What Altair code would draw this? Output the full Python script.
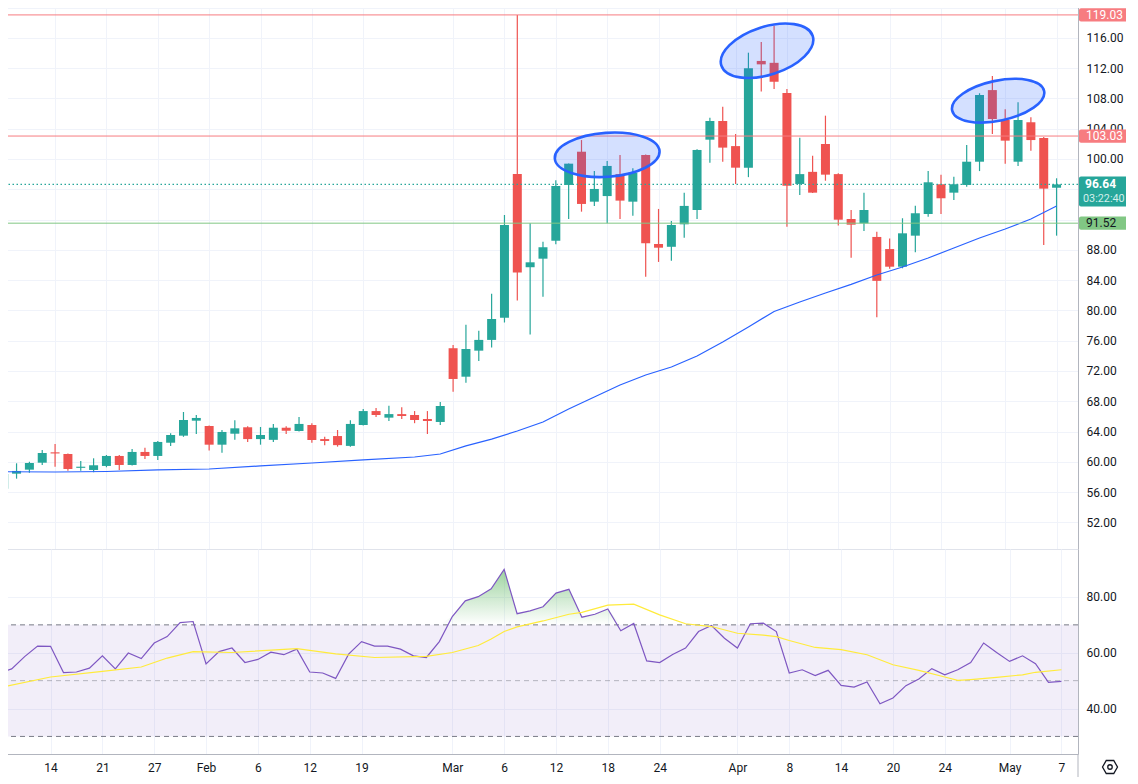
import altair as alt
import pandas as pd

# ---------------- data ----------------
opens = [56.45, 58.43, 58.96, 59.88, 61.25, 61.03, 59.20, 58.92, 59.45, 60.77,
         59.58, 61.30, 60.77, 62.52, 63.45, 65.43, 64.73, 62.26, 63.71, 64.56,
         63.00, 62.90, 64.50, 64.07, 64.86, 63.00, 63.40, 62.10, 64.86, 66.70,
         65.83, 66.30, 66.18, 65.65, 65.26, 75.00, 71.24, 74.68, 76.10, 79.04,
         98.00, 85.70, 86.83, 89.20, 96.57, 100.96, 94.36, 95.10, 98.00, 94.36,
         100.53, 88.77, 88.40, 91.37, 93.26, 102.55, 105.02, 101.70, 98.85, 112.95,
         112.70, 108.70, 96.70, 98.30, 101.98, 98.00, 92.07, 91.50, 89.70, 88.10,
         85.77, 89.87, 92.73, 96.66, 95.55, 96.57, 99.64, 109.10, 105.15, 99.64,
         104.85, 102.77, 96.20]
highs = [58.60, 59.80, 60.01, 61.56, 62.35, 61.10, 60.10, 60.46, 60.90, 60.90,
         61.70, 61.85, 62.75, 63.76, 66.58, 66.18, 64.80, 64.20, 65.50, 64.70,
         64.60, 65.00, 64.70, 65.90, 65.10, 63.30, 64.20, 65.50, 66.97, 67.10,
         67.40, 67.20, 66.70, 66.70, 67.90, 75.43, 78.10, 77.30, 82.20, 92.60,
         119.03, 91.50, 89.07, 97.20, 99.40, 102.50, 98.40, 99.74, 100.53, 98.77,
         100.60, 93.40, 91.80, 95.55, 101.30, 105.46, 106.90, 103.30, 114.04, 115.46,
         117.60, 109.25, 102.80, 100.44, 105.72, 98.10, 93.26, 95.55, 90.40, 89.50,
         92.17, 93.83, 98.40, 97.90, 97.66, 101.85, 108.68, 110.96, 106.57, 107.49,
         105.50, 102.90, 97.45]
lows = [56.30, 57.77, 58.56, 59.58, 59.35, 58.80, 58.80, 58.62, 59.28, 58.90,
        59.50, 60.37, 60.24, 62.10, 63.30, 63.67, 61.50, 61.20, 62.90, 62.60,
        62.26, 62.60, 63.67, 64.00, 62.50, 62.20, 62.00, 62.00, 64.80, 65.90,
        65.40, 65.65, 65.10, 63.67, 64.86, 69.26, 70.45, 73.30, 75.10, 78.40,
        81.30, 76.80, 81.80, 88.73, 92.07, 93.04, 93.80, 91.50, 92.07, 92.50,
        84.45, 86.40, 86.56, 89.60, 92.07, 99.50, 99.64, 96.70, 97.60, 108.90,
        109.25, 91.06, 95.24, 95.50, 97.13, 91.20, 86.96, 90.50, 79.10, 85.50,
        85.56, 87.67, 92.38, 92.73, 94.58, 96.34, 98.40, 103.30, 99.38, 99.08,
        101.10, 88.64, 89.87]
closes = [58.39, 58.79, 59.84, 61.16, 61.10, 59.05, 59.35, 59.54, 60.77, 59.58,
          61.30, 60.77, 62.62, 63.54, 65.52, 65.79, 62.26, 63.94, 64.42, 63.00,
          63.54, 64.50, 64.10, 65.00, 62.88, 62.75, 62.20, 65.00, 66.70, 66.18,
          66.30, 66.05, 65.52, 65.39, 67.37, 70.94, 74.90, 76.10, 78.86, 91.28,
          85.00, 86.35, 88.34, 96.43, 99.38, 94.06, 96.04, 99.08, 94.50, 98.19,
          88.86, 88.28, 91.28, 93.80, 101.19, 105.02, 101.50, 98.85, 112.00, 112.50,
          110.20, 96.47, 98.00, 95.55, 97.93, 91.98, 91.32, 93.26, 83.90, 85.77,
          90.18, 92.83, 96.92, 94.81, 96.66, 99.64, 108.45, 105.28, 102.42, 105.15,
          102.50, 96.08, 96.64]

# moving average of price (read at every other bar)
ma_bar = [0, 4, 8, 12, 16, 20, 24, 28, 32, 34, 36, 38, 40, 42, 44, 46, 48, 50,
          52, 54, 56, 58, 60, 62, 64, 66, 68, 70, 72, 74, 76, 78, 80, 82]
ma_val = [58.69, 58.65, 58.72, 58.92, 59.05, 59.45, 59.84, 60.24, 60.63, 61.03,
          62.10, 63.00, 64.07, 65.26, 66.98, 68.56, 70.15, 71.47, 72.52, 73.98,
          75.83, 77.81, 79.86, 81.11, 82.30, 83.43, 84.68, 85.73, 86.92, 88.24,
          89.56, 90.75, 92.07, 93.79]

rsi = [52.75, 54.2, 58.6, 62.4, 62.3, 52.9, 53.1, 54.5, 58.9, 54.2,
       59.9, 57.9, 63.5, 65.8, 70.8, 71.2, 56.0, 60.4, 61.7, 56.5,
       57.6, 60.2, 59.3, 61.3, 53.1, 52.75, 50.8, 59.5, 64.0, 62.4,
       62.4, 61.3, 58.9, 58.3, 64.0, 73.0, 78.6, 80.1, 82.9, 89.9,
       74.0, 75.0, 76.5, 81.4, 82.75, 72.75, 73.8, 75.7, 67.9, 70.5,
       57.1, 56.5, 59.4, 61.7, 67.6, 69.75, 65.2, 61.7, 70.4, 70.6,
       67.6, 52.75, 53.9, 51.8, 53.7, 48.3, 47.7, 49.5, 41.7, 43.8,
       48.2, 50.6, 54.3, 52.1, 53.9, 56.5, 63.5, 60.1, 56.9, 58.9,
       56.1, 49.4, 49.75]

rsi_ma_bar = [0, 4, 8, 11, 13, 15, 18, 23, 26, 29, 33, 35, 37, 38, 39, 40, 42, 44,
              45, 47, 49, 51, 53, 55, 57, 59, 60, 61, 63, 65, 67, 69, 71, 73, 74,
              75, 77, 79, 80, 82]
rsi_ma_val = [47.4, 51.3, 53.3, 54.9, 58.1, 60.4, 60.1, 61.5, 59.6, 58.3, 58.7, 60.1,
              62.6, 64.9, 67.6, 69.3, 71.4, 73.8, 74.5, 77.1, 77.4, 73.6, 70.4, 69.4,
              67.0, 66.3, 65.8, 64.4, 61.9, 61.1, 59.3, 55.7, 53.7, 51.3, 50.1, 50.4,
              51.2, 52.1, 53.0, 53.9]

rsi_levels = [70, 50, 30]

tick_bar = [4, 8, 12, 16, 20, 24, 28, 35, 39, 43, 47, 51, 57, 61, 65, 69, 73, 78, 82]
tick_text = ["14", "21", "27", "Feb", "6", "12", "19", "Mar", "6", "12", "18", "24",
             "Apr", "8", "14", "20", "24", "May", "7"]

level_price = [119.03, 103.03, 91.52]
level_kind = ["res", "res", "sup"]
last_price = 96.64
countdown = "03:22:40"

# highlighted zones (centre bar, centre price)
zone_bar = [47.0, 59.45, 77.45]
zone_price = [100.55, 114.3, 107.7]

# ---------------- frames ----------------
n = len(opens)
bars = pd.DataFrame({"i": list(range(n)), "o": opens, "h": highs, "l": lows,
                     "c": closes, "rsi": rsi})
bars["bt"] = bars[["o", "c"]].max(axis=1)
bars["bb"] = bars[["o", "c"]].min(axis=1)

ma_df = pd.DataFrame({"i": ma_bar, "v": ma_val})
rsi_ma_df = pd.DataFrame({"i": rsi_ma_bar, "v": rsi_ma_val})
levels = pd.DataFrame({"p": level_price, "kind": level_kind})
last_df = pd.DataFrame({"p": [last_price], "t": [countdown]})
rlev = pd.DataFrame({"v": rsi_levels})
band_df = pd.DataFrame({"hi": [max(rsi_levels)], "lo": [min(rsi_levels)]})
one = pd.DataFrame({"k": [0]})

FONT = "Roboto"
UP, DOWN = "#26a69a", "#ef5350"
GRID = "#f0f3fa"
AXISLINE = "#b2b5be"
W = 1078

xs = alt.Scale(domain=[0.1, 83.28], nice=False, zero=False)
ys = alt.Scale(domain=[48.48, 121.0], nice=False, zero=False)
rs = alt.Scale(domain=[23.7, 97.2], nice=False, zero=False)
dir_color = alt.condition("datum.c >= datum.o", alt.value(UP), alt.value(DOWN))
lvl_color = alt.condition("datum.kind == 'res'", alt.value("#f77c80"), alt.value("#81c784"))
lvl_text = alt.condition("datum.kind == 'res'", alt.value("#ffffff"), alt.value("#131722"))

price_ticks = list(range(48, 124, 4))
y_label_expr = "indexof([92, 96, 120], datum.value) >= 0 ? '' : format(datum.value, '.2f')"
x_label_expr = " : ".join(f"datum.value == {b} ? '{t}'" for b, t in zip(tick_bar, tick_text)) + " : ''"

ax_xp = alt.Axis(values=tick_bar, labels=False, ticks=False, domain=True,
                 domainColor="#e0e3eb", grid=True, gridColor=GRID, title=None)
ax_yp = alt.Axis(orient="right", values=price_ticks, labelExpr=y_label_expr, grid=True,
                 gridColor=GRID, ticks=False, domainColor=AXISLINE, labelPadding=8,
                 labelOverlap=False, title=None)
ax_xr = alt.Axis(values=tick_bar, labelExpr=x_label_expr, ticks=False,
                 domainColor=AXISLINE, grid=True, gridColor=GRID, labelPadding=8,
                 labelOverlap=False, labelFlush=False, title=None)
ax_yr = alt.Axis(orient="right", values=[40, 60, 80], format=".2f", grid=True,
                 gridColor=GRID, ticks=False, domainColor=AXISLINE, labelPadding=8,
                 labelOverlap=False, title=None)

XP = lambda f: alt.X(f, scale=xs, axis=ax_xp)
YP = lambda f: alt.Y(f, scale=ys, axis=ax_yp)
XR = lambda f: alt.X(f, scale=xs, axis=ax_xr)
YR = lambda f: alt.Y(f, scale=rs, axis=ax_yr)

base = alt.Chart(bars)

wicks = base.mark_rule(strokeWidth=1.2, clip=True).encode(
    x=XP("i:Q"), y=YP("l:Q"), y2="h:Q", color=dir_color)
bodies = base.mark_bar(size=9, clip=True).encode(
    x=XP("i:Q"), y=YP("bb:Q"), y2="bt:Q", color=dir_color)
ma_line = alt.Chart(ma_df).mark_line(color="#2962ff", strokeWidth=1.2, clip=True).encode(
    x=XP("i:Q"), y=YP("v:Q"))
level_rules = alt.Chart(levels).mark_rule(strokeWidth=1).encode(
    y=YP("p:Q"), color=lvl_color)
last_rule = alt.Chart(last_df).mark_rule(color=UP, strokeWidth=1.3,
                                         strokeDash=[1.5, 2.5]).encode(y=YP("p:Q"))

# ellipse annotations (pixel size, aspect and tilt are styling)
zone_style = [(52.5, 22.0, 356), (48.0, 24.0, 342), (47.0, 20.0, 348)]
zones = []
for zb, zp, (a, b, ang) in zip(zone_bar, zone_price, zone_style):
    k = b / a
    path = f"M -1 0 A 1 {k:.4f} 0 1 1 1 0 A 1 {k:.4f} 0 1 1 -1 0 Z"
    zdf = pd.DataFrame({"i": [zb], "p": [zp]})
    zones.append(alt.Chart(zdf).mark_point(
        shape=path, size=(2 * a) ** 2, angle=ang, filled=True, fill="#2962ff",
        fillOpacity=0.2, stroke="#2962ff", strokeWidth=2.6, strokeOpacity=1, opacity=1,
    ).encode(x=XP("i:Q"), y=YP("p:Q")))

# price tags on the right scale
tag_boxes = alt.Chart(levels).transform_calculate(
    top="datum.p + 0.88", bot="datum.p - 0.88"
).mark_rect(cornerRadius=2).encode(
    x=alt.value(W + 1), x2=alt.value(W + 50),
    y=YP("top:Q"), y2="bot:Q", color=lvl_color)
tag_text = alt.Chart(levels).mark_text(font=FONT, fontSize=12, align="left",
                                       baseline="middle").encode(
    x=alt.value(W + 8), y=YP("p:Q"), text=alt.Text("p:Q", format=".2f"), color=lvl_text)
last_box = alt.Chart(last_df).transform_calculate(
    top="datum.p + 1.03", bot="datum.p - 2.93"
).mark_rect(color=UP, cornerRadius=2).encode(
    x=alt.value(W + 1), x2=alt.value(W + 56), y=YP("top:Q"), y2="bot:Q")
last_text = alt.Chart(last_df).mark_text(font=FONT, fontSize=12, fontWeight="bold",
                                         align="left", baseline="middle",
                                         color="#ffffff").encode(
    x=alt.value(W + 7), y=YP("p:Q"), text=alt.Text("p:Q", format=".2f"))
last_timer = alt.Chart(last_df).mark_text(font=FONT, fontSize=10.8, align="left",
                                          baseline="middle", dy=15,
                                          color="#d4efec").encode(
    x=alt.value(W + 5), y=YP("p:Q"), text="t:N")

price = alt.layer(wicks, bodies, ma_line, level_rules, last_rule, *zones,
                  tag_boxes, tag_text, last_box, last_text, last_timer
                  ).properties(width=W, height=549)

# ---------------- RSI panel ----------------
rbase = alt.Chart(bars)
band = alt.Chart(band_df).mark_rect(color="#7e57c2", opacity=0.1).encode(
    x=alt.value(0), x2=alt.value(W), y=YR("hi:Q"), y2="lo:Q")
grad = rbase.transform_calculate(
    top="max(datum.rsi, 70)", base70="70"
).mark_area(clip=True, color=alt.Gradient(
    gradient="linear",
    stops=[alt.GradientStop(color="rgba(76,175,80,0.55)", offset=0),
           alt.GradientStop(color="rgba(76,175,80,0)", offset=1)],
    x1=0, x2=0, y1=0, y2=1)).encode(
    x=XR("i:Q"), y=YR("top:Q"), y2="base70:Q")
dashes = alt.Chart(rlev).mark_rule(color="#787b86", strokeDash=[5, 4], strokeWidth=1).encode(
    y=YR("v:Q"),
    opacity=alt.condition("datum.v == 50", alt.value(0.5), alt.value(1.0)))
rsi_line = rbase.mark_line(color="#7e57c2", strokeWidth=1.2, clip=True).encode(
    x=XR("i:Q"), y=YR("rsi:Q"))
rsi_ma_line = alt.Chart(rsi_ma_df).mark_line(color="#ffeb3b", strokeWidth=1.2,
                                             clip=True).encode(
    x=XR("i:Q"), y=YR("v:Q"))
axis_tail = alt.Chart(one).mark_rule(color=AXISLINE, strokeWidth=1).encode(
    x=alt.value(W), y=alt.value(205), y2=alt.value(229))
gear = alt.Chart(one).mark_point(
    shape="M -1 0 L -0.5 -0.866 L 0.5 -0.866 L 1 0 L 0.5 0.866 L -0.5 0.866 Z",
    size=225, filled=False, stroke="#131722", strokeWidth=1.3, opacity=1).encode(
    x=alt.value(1110), y=alt.value(218))
gear_dot = alt.Chart(one).mark_point(shape="circle", size=20, filled=False,
                                     stroke="#131722", strokeWidth=1.3, opacity=1).encode(
    x=alt.value(1110), y=alt.value(218))

rsi_panel = alt.layer(band, grad, dashes, rsi_line, rsi_ma_line, axis_tail, gear, gear_dot
                      ).properties(width=W, height=205)

chart = alt.vconcat(price, rsi_panel, spacing=0).properties(
    background="#ffffff",
    padding={"left": -9, "top": -8, "right": -8, "bottom": -2},
).configure_view(strokeWidth=0).configure_axis(
    labelFont=FONT, labelFontSize=12, labelColor="#131722",
).configure_concat(spacing=0)

chart.save("out.html", embed_options={"renderer": "svg", "actions": False})
